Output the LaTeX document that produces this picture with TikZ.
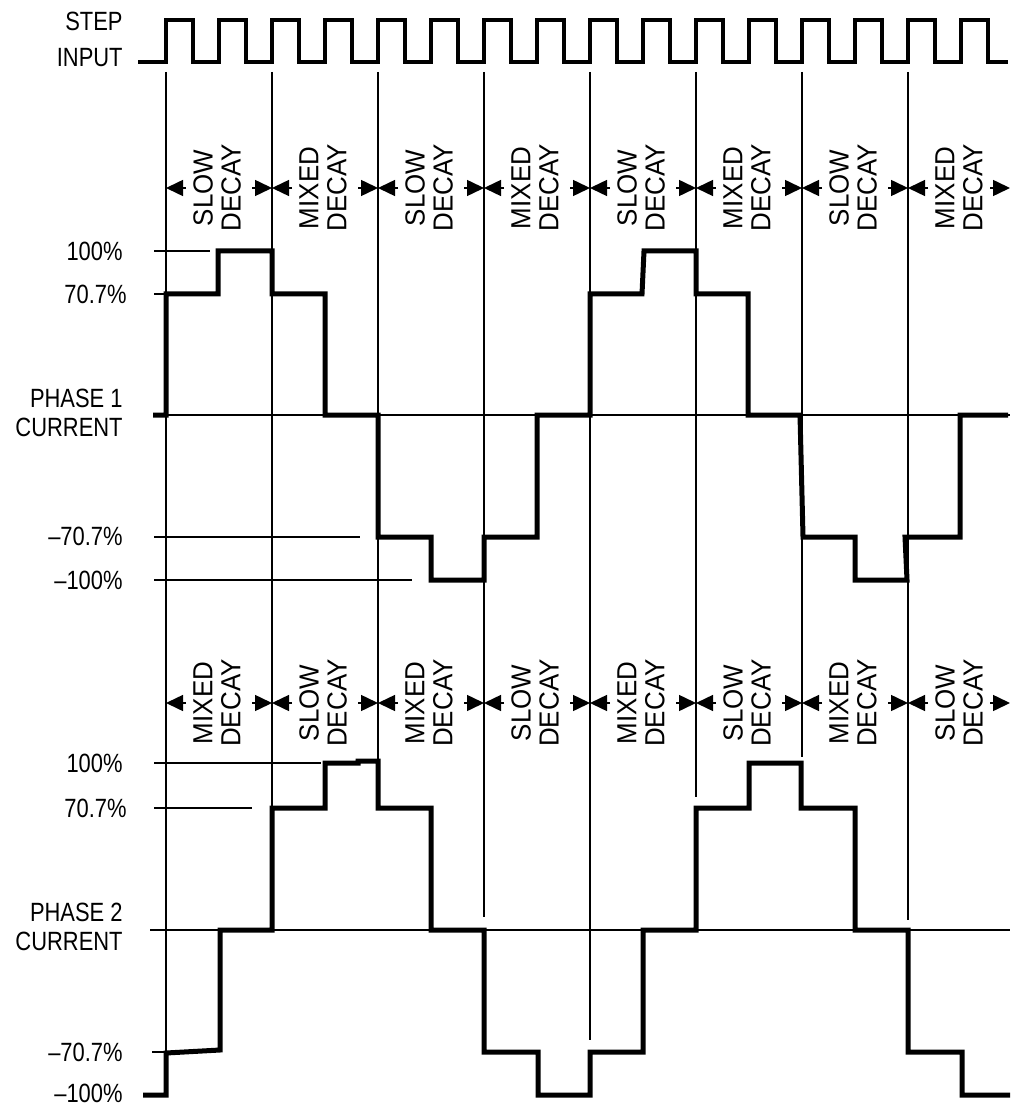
\documentclass[tikz,border=0pt]{standalone}
\usepackage{fontspec}
\setmainfont{Liberation Sans}
\newfontfamily\narrowfont[FakeStretch=0.83]{Liberation Sans}
\newfontfamily\decayfont[FakeStretch=0.94]{Liberation Sans}
\usetikzlibrary{arrows.meta}
\newcommand\lblfont{\narrowfont\fontsize{13.2}{14.5}\selectfont}
\newcommand\decfont{\decayfont\fontsize{13.8}{14}\selectfont}
\begin{document}
\begin{tikzpicture}[x=0.5pt,y=-0.5pt,
  thinline/.style={line width=0.75pt},
  wave/.style={line width=2.5pt, line join=miter},
  stepwave/.style={line width=2pt, line join=miter},
  lbl/.style={anchor=east, inner sep=0pt, font=\lblfont},
  decay/.style={rotate=90, align=center, inner sep=0pt, font=\decfont},
  decarrow/.style={line width=0.75pt, -{Triangle[length=8.5pt,width=8pt]}}]
\useasboundingbox (0,0) rectangle (1010,1106);

% ---- labels
\node[lbl] (stepl) at (123,21) {STEP};
\node[lbl] (inputl) at (123,58) {INPUT};
\node[lbl] (p1h) at (123,251) {100\%};
\node[lbl] (p1m) at (127,294) {70.7\%};
\node[lbl,align=right] (p1n) at (123,413) {PHASE 1\\CURRENT};
\node[lbl] (p1mn) at (123,536) {–70.7\%};
\node[lbl] (p1hn) at (123,580) {–100\%};
\node[lbl] (p2h) at (123,763) {100\%};
\node[lbl] (p2m) at (127,808) {70.7\%};
\node[lbl,align=right] (p2n) at (123,927) {PHASE 2\\CURRENT};
\node[lbl] (p2mn) at (123,1052) {–70.7\%};
\node[lbl] (p2hn) at (123,1093) {–100\%};

% ---- guide lines
\draw[thinline] (166,72) -- (166,1052);
\draw[thinline] (272,72) -- (272,808);
\draw[thinline] (378,72) -- (378,763);
\draw[thinline] (484,72) -- (484,917);
\draw[thinline] (590,72) -- (590,1040);
\draw[thinline] (696,72) -- (696,797);
\draw[thinline] (802,72) -- (802,757);
\draw[thinline] (908,72) -- (908,920);

% ---- reference levels
\draw[thinline] (154,251) -- (210,251);
\draw[thinline] (154,294) -- (166,294);
\draw[thinline] (153,415) -- (1010,415);
\draw[thinline] (154,537) -- (360,537);
\draw[thinline] (154,580) -- (412,580);
\draw[thinline] (154,763) -- (321,763);
\draw[thinline] (154,808) -- (252,808);
\draw[thinline] (150,930) -- (1010,930);
\draw[thinline] (152,1052) -- (166,1052);

% ---- step input
\draw[stepwave] (138,62)
  \foreach \k in {0,...,15} { -- ({166+53*\k},62) -- ({166+53*\k},20) -- ({193+53*\k},20) -- ({193+53*\k},62) }
  -- (1008,62);

% ---- phase 1 current
\draw[wave] (153,415) -- (166,415) -- (166,294) -- (218,294) -- (218,251) -- (272,251)
  -- (272,294) -- (325,294) -- (325,415) -- (378,415) -- (378,537) -- (431,537)
  -- (431,580) -- (484,580) -- (484,537) -- (537,537) -- (537,415) -- (590,415)
  -- (590,294) -- (642,294) -- (644,251) -- (696,251) -- (696,294) -- (748,294)
  -- (748,415) -- (800,415) -- (803,537) -- (855,537) -- (855,580) -- (907,580)
  -- (905,537) -- (960,537) -- (960,415) -- (1008,415);

% ---- phase 2 current
\draw[wave] (143,1095) -- (166,1095) -- (166,1053) -- (220,1050) -- (220,930) -- (272,930)
  -- (272,808) -- (325,808) -- (325,763) -- (358,763) -- (358,761) -- (378,761)
  -- (378,808) -- (431,808) -- (431,930) -- (484,930) -- (484,1052) -- (538,1052)
  -- (538,1095) -- (590,1095) -- (590,1052) -- (643,1052) -- (643,930) -- (696,930)
  -- (696,808) -- (749,808) -- (749,763) -- (801,763) -- (801,808) -- (855,808)
  -- (855,930) -- (908,930) -- (908,1052) -- (962,1052) -- (962,1095) -- (1010,1095);

% ---- decay labels
\foreach \i/\ta/\tb in {0/SLOW/MIXED,1/MIXED/SLOW,2/SLOW/MIXED,3/MIXED/SLOW,4/SLOW/MIXED,5/MIXED/SLOW,6/SLOW/MIXED,7/MIXED/SLOW} {
  \pgfmathsetmacro\xa{166+106*\i}
  \pgfmathsetmacro\xb{min(\xa+106,1010)}
  \pgfmathsetmacro\xm{\xa+53-2}
  \draw[decarrow] ({\xa+20},188) -- (\xa,188);
  \draw[decarrow] ({\xb-20},188) -- (\xb,188);
  \node[decay] (ua\i) at (\xm,188) {\ta\\DECAY};
  \draw[decarrow] ({\xa+20},703) -- (\xa,703);
  \draw[decarrow] ({\xb-20},703) -- (\xb,703);
  \node[decay] (la\i) at (\xm,703) {\tb\\DECAY};
}
\end{tikzpicture}
\end{document}
